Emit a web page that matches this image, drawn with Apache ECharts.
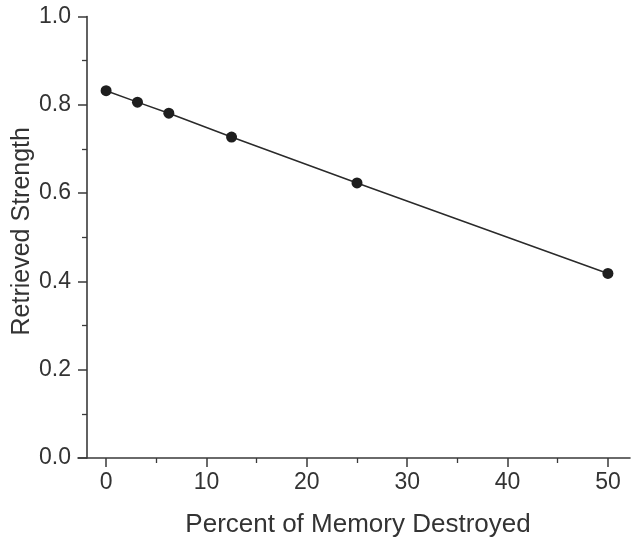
<!DOCTYPE html>
<html>
<head>
<meta charset="utf-8">
<script src="https://cdn.jsdelivr.net/npm/echarts@6/dist/echarts.min.js"></script>
<style>
html,body{margin:0;padding:0;background:#fff;}
#c{width:631px;height:542px;}
</style>
</head>
<body>
<div id="c"></div>
<script>
var percentDestroyed = [0, 3.125, 6.25, 12.5, 25, 50];
var retrievedStrength = [0.832, 0.806, 0.781, 0.727, 0.623, 0.418];
var xMajorTicks = [0, 10, 20, 30, 40, 50];
var xMinorTicks = [5, 15, 25, 35, 45];
var xTitle = 'Percent of Memory Destroyed';
var yTitle = 'Retrieved Strength';

var FONT = '"Liberation Sans", Arial, sans-serif';
var AX = '#3a3a3a';
var TXT = '#333';

var chart = echarts.init(document.getElementById('c'), null, {renderer: 'canvas'});
var pts = percentDestroyed.map(function (x, i) { return [x, retrievedStrength[i]]; });

chart.setOption({
  backgroundColor: '#fff',
  animation: false,
  grid: {left: 78, right: 1, top: 16.5, bottom: 84, containLabel: false, outerBoundsMode: 'none'},
  xAxis: [{
    type: 'value', min: -2.8, max: 52.2,
    splitLine: {show: false},
    axisLine: {show: true, onZero: false, lineStyle: {color: AX, width: 1.6}},
    axisTick: {show: true, length: 9, customValues: xMajorTicks, lineStyle: {color: AX, width: 1.5}},
    axisLabel: {show: true, customValues: xMajorTicks, margin: 13, fontSize: 23, color: TXT, fontFamily: FONT},
    name: xTitle, nameLocation: 'middle', nameGap: 54, nameMoveOverlap: false,
    nameTextStyle: {fontSize: 26, color: TXT, fontFamily: FONT, padding: [0, 0, 0, 8]}
  }, {
    type: 'value', min: -2.8, max: 52.2, position: 'bottom',
    splitLine: {show: false},
    axisLine: {show: false, onZero: false},
    axisTick: {show: true, length: 5, customValues: xMinorTicks, lineStyle: {color: AX, width: 1.3}},
    axisLabel: {show: false}
  }],
  yAxis: {
    type: 'value', min: 0, max: 1.0, interval: 0.2, offset: -9,
    splitLine: {show: false},
    axisLine: {show: true, onZero: false, lineStyle: {color: AX, width: 1.6}},
    axisTick: {show: true, length: 9, lineStyle: {color: AX, width: 1.5}},
    minorTick: {show: true, splitNumber: 2, length: 5, lineStyle: {color: AX, width: 1.3}},
    axisLabel: {margin: 16, fontSize: 23, color: TXT, fontFamily: FONT,
      formatter: function (v) { return v.toFixed(1); }},
    name: yTitle, nameLocation: 'middle', nameGap: 52, nameMoveOverlap: false,
    nameTextStyle: {fontSize: 25, color: TXT, fontFamily: FONT, padding: [0, 0, 0, 12]}
  },
  series: [{
    type: 'line', xAxisIndex: 0, data: pts,
    symbol: 'circle', symbolSize: 11,
    itemStyle: {color: '#1e1e1e'},
    lineStyle: {color: '#2a2a2a', width: 1.5}
  }]
});
</script>
</body>
</html>
